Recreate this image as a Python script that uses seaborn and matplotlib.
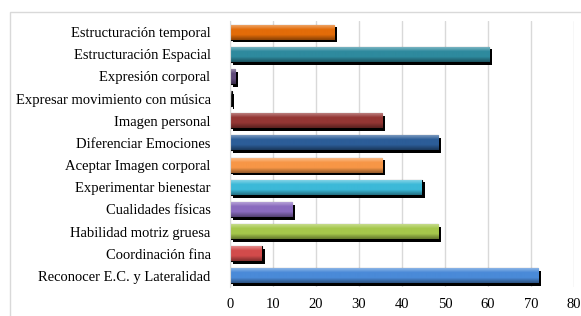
import numpy as np
import pandas as pd
import matplotlib
matplotlib.use('Agg')
import matplotlib.pyplot as plt
import matplotlib.patheffects as pe
from matplotlib.colors import LinearSegmentedColormap, to_rgb
import seaborn as sns

# --- data ---
categories = [
    'Estructuración temporal',
    'Estructuración Espacial',
    'Expresión corporal',
    'Expresar movimiento con música',
    'Imagen personal',
    'Diferenciar Emociones',
    'Aceptar Imagen corporal',
    'Experimentar bienestar',
    'Cualidades físicas',
    'Habilidad motriz gruesa',
    'Coordinación fina',
    'Reconocer E.C. y Lateralidad',
]
values = [24.3, 60.3, 1.2, 0.4, 35.4, 48.4, 35.4, 44.6, 14.5, 48.4, 7.4, 71.7]
bar_colors = ['#E36C09', '#2E8A9E', '#5F497A', '#1A1A1A', '#943634', '#2C5D98',
              '#F79646', '#3CB9D8', '#8A6BBE', '#A5C74B', '#D24B4B', '#4A8AD8']
xticks = [0, 10, 20, 30, 40, 50, 60, 70, 80]

df = pd.DataFrame({'cat': categories, 'val': values})

sns.set_style('white')
plt.rcParams['font.family'] = ['Liberation Serif', 'DejaVu Serif']

fig = plt.figure(figsize=(5.81, 3.16), dpi=100)
# chart area border
fig.patches.append(plt.Rectangle((10 / 581, -0.1), 1.1, 1 - 12 / 316 + 0.1,
                                 transform=fig.transFigure, fill=False,
                                 edgecolor='#D9D9D9', lw=1))
ax = fig.add_axes([230 / 581, 1 - 287 / 316, (574 - 230) / 581, (287 - 21) / 316])

sns.barplot(data=df, x='val', y='cat', hue='cat', palette=bar_colors,
            legend=False, width=0.68, ax=ax, saturation=1,
            edgecolor='black', linewidth=0.8)

# shadow + gradient on each bar
for patch, c in zip(ax.patches, bar_colors):
    patch.set_path_effects([pe.SimplePatchShadow(offset=(2, -2),
                                                 shadow_rgbFace='black', alpha=1),
                            pe.Normal()])
    base = np.array(to_rgb(c))
    light = base + (1 - base) * 0.45
    dark = base * 0.6
    cmap = LinearSegmentedColormap.from_list('g', [light, base, base, dark])
    bb = patch.get_bbox()
    if bb.width <= 0:
        continue
    grad = np.linspace(0, 1, 64).reshape(-1, 1)
    im = ax.imshow(grad, cmap=cmap, aspect='auto',
                   extent=[bb.x0, bb.x1, bb.y1, bb.y0], origin='upper',
                   zorder=patch.get_zorder() + 0.1)
    im.set_clip_path(patch)

ax.set_xlim(0, 80)
ax.set_ylim(len(categories) - 0.5, -0.5)
ax.set_xticks(xticks)
ax.set_xlabel('')
ax.set_ylabel('')
ax.xaxis.grid(True, color='#D9D9D9', lw=1)
ax.set_axisbelow(True)
for s in ['top', 'right', 'bottom']:
    ax.spines[s].set_visible(False)
ax.spines['left'].set_color('#D9D9D9')
ax.tick_params(axis='both', length=0, labelsize=10.5, colors='black')
ax.tick_params(axis='x', pad=8)
ax.tick_params(axis='y', pad=14)

fig.savefig('out.png', dpi=100)
